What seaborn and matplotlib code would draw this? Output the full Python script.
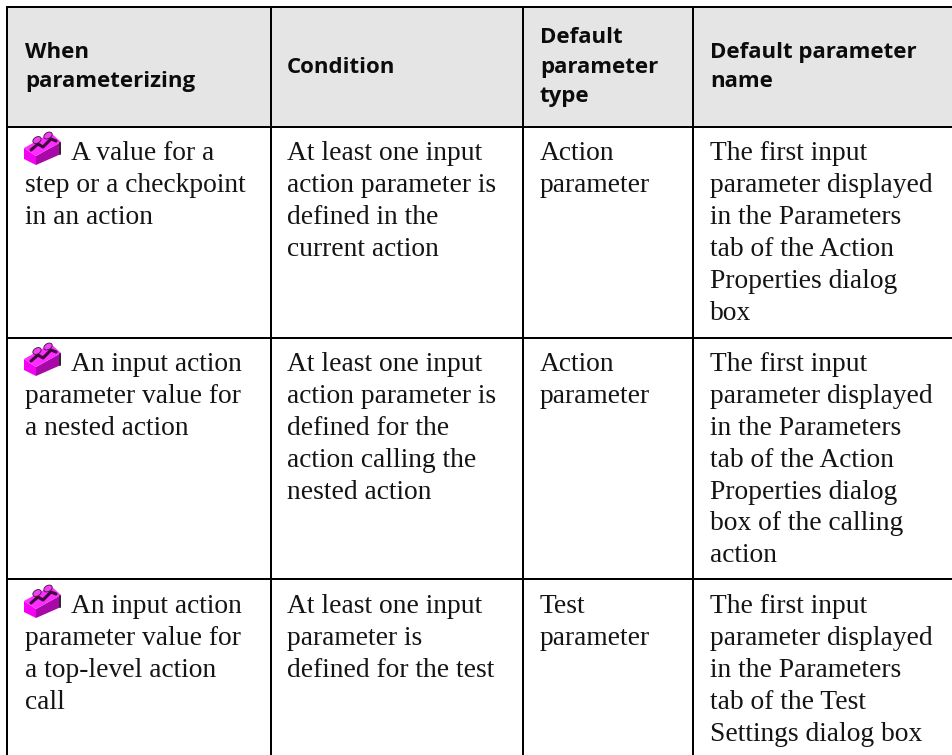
import matplotlib
matplotlib.use("Agg")
import matplotlib.pyplot as plt
from matplotlib.patches import Polygon, Rectangle, Ellipse
import seaborn as sns

headers = [
    ["When", "parameterizing"],
    ["Condition"],
    ["Default", "parameter", "type"],
    ["Default parameter", "name"],
]
when_col = [
    ["A value for a", "step or a checkpoint", "in an action"],
    ["An input action", "parameter value for", "a nested action"],
    ["An input action", "parameter value for", "a top-level action", "call"],
]
condition_col = [
    ["At least one input", "action parameter is", "defined in the", "current action"],
    ["At least one input", "action parameter is", "defined for the", "action calling the", "nested action"],
    ["At least one input", "parameter is", "defined for the test"],
]
type_col = [
    ["Action", "parameter"],
    ["Action", "parameter"],
    ["Test", "parameter"],
]
name_col = [
    ["The first input", "parameter displayed", "in the Parameters", "tab of the Action", "Properties dialog", "box"],
    ["The first input", "parameter displayed", "in the Parameters", "tab of the Action", "Properties dialog", "box of the calling", "action"],
    ["The first input", "parameter displayed", "in the Parameters", "tab of the Test", "Settings dialog box"],
]

W, H = 953, 755
sns.set_theme(style="white")
plt.rcParams["font.family"] = ["Liberation Serif", "DejaVu Serif"]

fig, ax = plt.subplots(figsize=(W / 100, H / 100), dpi=100)
ax.set_position([0, 0, 1, 1])
ax.set_xlim(0, W)
ax.set_ylim(H, 0)
ax.axis("off")
sns.despine(ax=ax, left=True, bottom=True)

col_lines = [7.5, 271, 522.7, 692.7]
row_lines = [7, 127, 337.7, 579.3]
text_x = [25, 287, 540, 710]
body_first = [160, 371, 613]
LINE = 31.9
lw = 2.0 * 72 / 100
INK = "#141414"

ax.add_patch(Rectangle((col_lines[0], row_lines[0]), W - col_lines[0], row_lines[1] - row_lines[0],
                       fc="#e5e5e5", ec="none", zorder=0))
for y in row_lines:
    ax.plot([col_lines[0] - 1, W], [y, y], color="black", lw=lw, solid_capstyle="butt", zorder=2)
for x in col_lines:
    ax.plot([x, x], [row_lines[0], H], color="black", lw=lw, solid_capstyle="butt", zorder=2)

head_base = [[58, 87], [73], [43, 73, 102], [58, 87]]
for x, lines, bases in zip(text_x, headers, head_base):
    for s, b in zip(lines, bases):
        ax.text(x, b, s, fontsize=16.0, fontweight="bold", family=["Open Sans", "DejaVu Sans"],
                va="baseline", ha="left", color="#0c0c0c")


def brick(ox, oy):
    """Small magenta toy-brick icon."""
    P = lambda pts: [(ox + a, oy + b) for a, b in pts]
    ax.add_patch(Polygon(P([(0, 16), (12, 24), (12, 33), (0, 27)]), fc="#f400f4", ec="none", zorder=3))
    ax.add_patch(Polygon(P([(12, 24), (37, 10), (37, 22), (12, 33)]), fc="#a808a8", ec="none", zorder=3))
    ax.add_patch(Polygon(P([(0, 16), (27, 1), (37, 10), (12, 24)]), fc="#ff2cff", ec="none", zorder=3))
    ax.plot(*zip(*P([(35.8, 11), (35.8, 22)])), color="#2a2a2a", lw=1.4, zorder=4)
    ax.plot(*zip(*P([(7, 18), (14, 12), (19, 15), (27, 7), (32, 9)])), color="#3a0a3a", lw=2.2, zorder=4)
    ax.add_patch(Ellipse((ox + 13, oy + 8), 9, 6, angle=-30, fc="#f040f0", ec="#40103f", lw=0.6, zorder=4))
    ax.add_patch(Ellipse((ox + 24, oy + 3.5), 9, 6, angle=-30, fc="#f040f0", ec="#40103f", lw=0.6, zorder=4))


def body(x, lines, first, indent=0):
    for i, s in enumerate(lines):
        ax.text(x + (indent if i == 0 else 0), first + i * LINE, s, fontsize=19.8,
                va="baseline", ha="left", color=INK)


for r in range(3):
    body(text_x[0], when_col[r], body_first[r], indent=46)
    brick(24, body_first[r] - 28)
    body(text_x[1], condition_col[r], body_first[r])
    body(text_x[2], type_col[r], body_first[r])
    body(text_x[3], name_col[r], body_first[r])

fig.savefig("out.png", dpi=100, facecolor="white")
